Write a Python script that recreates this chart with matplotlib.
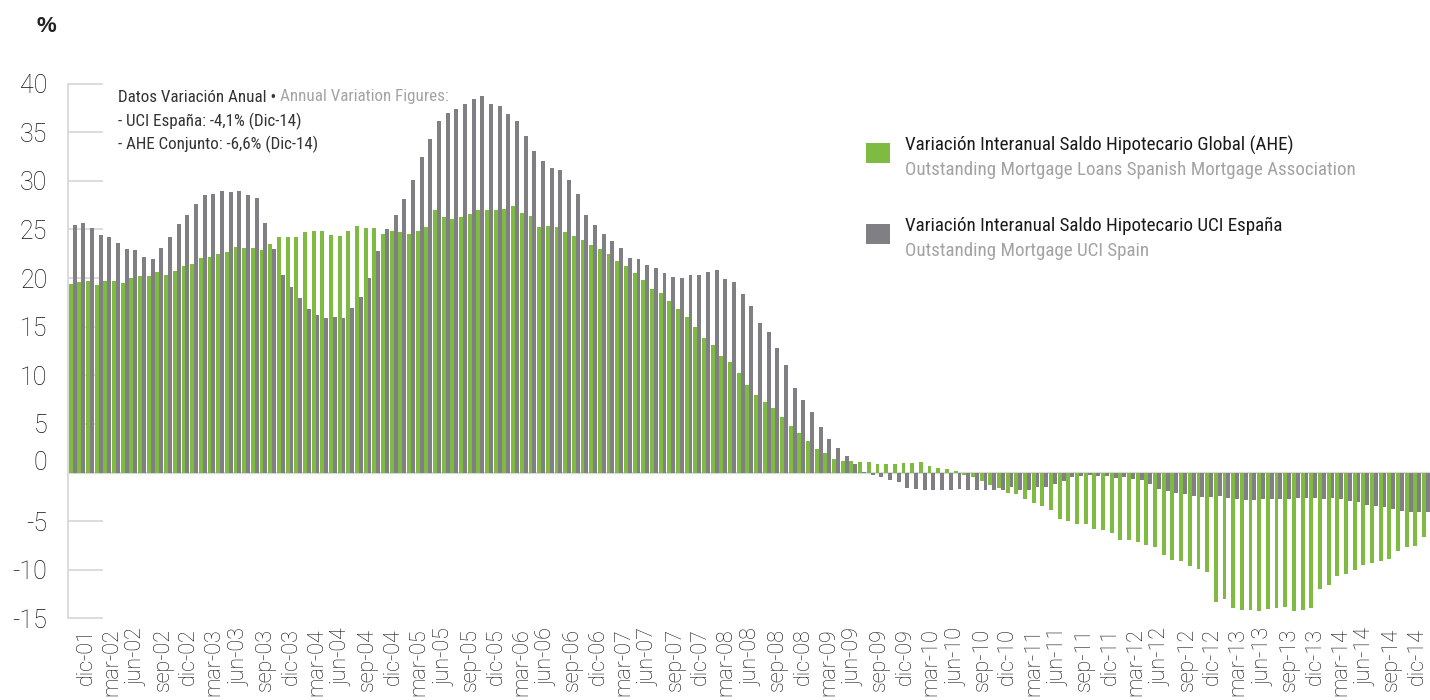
import matplotlib.pyplot as plt
import numpy as np
from matplotlib import font_manager as fm
from matplotlib.patches import Rectangle
from matplotlib.transforms import ScaledTranslation

# Variación interanual del saldo hipotecario (%), mensual de dic-01 a dic-14
ahe_global = [
    19.4, 19.6, 19.7, 19.3, 19.7, 19.7, 19.5, 20.0, 20.2, 20.2, 20.6, 20.3,
    20.7, 21.2, 21.5, 22.1, 22.2, 22.5, 22.7, 23.2, 23.1, 23.1, 22.9, 23.5,
    24.2, 24.2, 24.2, 24.7, 24.8, 24.8, 24.4, 24.3, 24.8, 25.4, 25.2, 25.2,
    24.5, 24.8, 24.7, 24.5, 24.8, 25.3, 27.0, 26.3, 26.1, 26.3, 26.6, 27.0,
    27.0, 27.0, 27.1, 27.4, 26.7, 26.4, 25.3, 25.4, 25.3, 24.7, 24.3, 23.9,
    23.4, 23.0, 22.5, 21.8, 21.2, 20.5, 19.8, 18.9, 18.5, 17.6, 16.8, 16.0,
    15.0, 13.8, 13.1, 12.0, 11.4, 10.2, 9.0, 8.0, 7.3, 6.6, 5.7, 4.8,
    4.1, 3.2, 2.4, 2.0, 1.4, 1.2, 1.2, 1.1, 1.1, 0.9, 0.9, 0.9,
    1.0, 1.0, 1.1, 0.7, 0.5, 0.35, 0.15, -0.3, -0.5, -0.9, -1.25, -1.6,
    -2.1, -2.2, -2.7, -3.1, -3.4, -3.9, -4.75, -4.95, -5.3, -5.3, -5.8, -5.9,
    -6.2, -6.9, -6.9, -7.1, -7.5, -7.7, -8.45, -9.0, -9.1, -9.6, -9.9, -10.2,
    -13.3, -13.0, -13.9, -14.1, -14.1, -14.3, -14.0, -13.9, -13.8, -14.3, -14.1, -13.9,
    -11.95, -11.6, -10.6, -10.4, -10.0, -9.5, -9.3, -9.1, -8.9, -8.1, -7.7, -7.6,
    -6.6,
]
uci_espana = [
    25.5, 25.7, 25.2, 24.4, 24.2, 23.6, 23.0, 22.9, 22.2, 22.0, 23.1, 24.2,
    25.6, 26.5, 27.6, 28.5, 28.7, 29.0, 28.9, 29.0, 28.5, 28.2, 25.7, 23.0,
    20.3, 19.1, 18.0, 16.8, 16.2, 15.9, 16.0, 15.9, 16.9, 18.1, 20.0, 22.8,
    25.0, 26.5, 28.1, 30.1, 32.5, 34.3, 36.2, 37.0, 37.4, 37.9, 38.4, 38.7,
    37.9, 37.7, 36.9, 36.2, 34.6, 33.1, 32.0, 31.3, 31.1, 30.1, 28.7, 26.5,
    25.5, 24.5, 23.8, 23.1, 22.1, 22.0, 21.3, 21.0, 20.5, 20.1, 20.0, 20.3,
    20.3, 20.6, 20.8, 19.9, 19.6, 18.4, 17.1, 15.4, 14.5, 12.8, 11.1, 8.7,
    7.5, 6.2, 4.7, 3.4, 2.5, 1.7, 0.9, 0.1, -0.3, -0.5, -0.8, -1.0,
    -1.6, -1.7, -1.8, -1.8, -1.8, -1.8, -1.7, -1.8, -1.8, -1.8, -1.8, -1.8,
    -1.5, -1.8, -1.8, -1.5, -1.5, -1.15, -0.9, -0.5, -0.4, -0.3, -0.4, -0.4,
    -0.6, -0.5, -0.7, -0.8, -1.15, -1.7, -1.9, -2.1, -2.2, -2.4, -2.5, -2.5,
    -2.4, -2.6, -2.7, -2.8, -2.8, -2.7, -2.7, -2.7, -2.7, -2.6, -2.6, -2.6,
    -2.7, -2.6, -2.7, -2.9, -3.0, -3.3, -3.4, -3.6, -3.8, -4.0, -4.1, -4.1,
    -4.1,
]

# Etiquetas trimestrales del eje x
mes_nombre = {2: 'mar', 5: 'jun', 8: 'sep', 11: 'dic'}
etiquetas_x = [f"{mes_nombre[(11 + 3 * k) % 12]}-{1 + (11 + 3 * k) // 12:02d}" for k in range(53)]
valores_y = [40, 35, 30, 25, 20, 15, 10, 5, 0, -5, -10, -15]

VERDE = '#7fba42'
GRIS = '#808084'
GRIS_TEXTO = '#a3a3a3'
W, H = 1430, 700

NORMAL = ['Liberation Sans', 'DejaVu Sans']
LIGERA = ['Roboto', 'Liberation Sans', 'DejaVu Sans']   # ejes en letra fina
plt.rcParams['font.family'] = NORMAL


def fuente_estrecha():
    # el original usa una letra condensada; se busca una instalada
    for familia in ['Liberation Sans Narrow', 'Roboto Condensed', 'Open Sans Condensed']:
        try:
            fm.findfont(fm.FontProperties(family=familia), fallback_to_default=False)
            return dict(family=familia)
        except ValueError:
            pass
    ruta = fm.findfont(fm.FontProperties(family='DejaVu Sans', stretch='condensed'))
    if 'Condensed' in ruta:
        return dict(family='DejaVu Sans', fontstretch='condensed')
    return dict(family='Liberation Sans')


ESTRECHA = fuente_estrecha()


def px(x, y):
    # pixel de la imagen -> coordenadas de figura
    return x / W, 1 - y / H


fig = plt.figure(figsize=(W / 100, H / 100), dpi=100)
ax = fig.add_axes([68.3 / W, (H - 618.3) / H, 1362 / W, 534.6 / H])
renderer = fig.canvas.get_renderer()


def tam_para_ancho(texto, ancho_px):
    # tamaño de letra con el que el texto ocupa ancho_px pixeles
    ancho = texto.get_window_extent(renderer).width
    return texto.get_fontsize() * ancho_px / ancho


meses = np.arange(len(ahe_global))
ax.axhline(0, color='#d9d9d9', lw=1.6, zorder=1)
ax.bar(meses + 0.225, uci_espana, width=0.45, color=GRIS, zorder=2)
ax.bar(meses - 0.225, ahe_global, width=0.45, color=VERDE, zorder=3)

ax.set_xlim(-0.5, 156.5)
ax.set_ylim(-15, 40)

# Ejes
for lado in ['top', 'right', 'bottom']:
    ax.spines[lado].set_visible(False)
ax.spines['left'].set_color('#d9d9d9')
ax.spines['left'].set_linewidth(1.3)

ax.set_yticks(valores_y, labels=[str(v) for v in valores_y])
ax.tick_params(axis='y', direction='in', length=25, width=1.3, color='#d9d9d9',
               pad=15, labelsize=18, labelcolor='#111111')
# la etiqueta 0 está algo más arriba en el original
lbl0 = ax.get_yticklabels()[valores_y.index(0)]
lbl0.set_transform(lbl0.get_transform() + ScaledTranslation(0, 9 / 72, fig.dpi_scale_trans))

ax.set_xticks(np.linspace(1.57, 155.0, len(etiquetas_x)), labels=etiquetas_x)
ax.tick_params(axis='x', length=0, pad=7, labelsize=15.5, labelcolor='#111111',
               labelrotation=90)
for lbl in ax.get_xticklabels() + ax.get_yticklabels():
    lbl.set_family(LIGERA)
    lbl.set_fontweight('light')

fig.text(*px(46, 27), '%', ha='center', va='center', fontsize=16,
         fontweight='bold', color='#222222', family=NORMAL)

# Nota de datos anuales
nota = [
    fig.text(*px(118, 121), '- UCI España: -4,1% (Dic-14)', ha='left', va='center',
             fontsize=12, color='#333333', **ESTRECHA),
    fig.text(*px(118, 144), '- AHE Conjunto: -6,6% (Dic-14)', ha='left', va='center',
             fontsize=12, color='#333333', **ESTRECHA),
    fig.text(*px(118, 97), 'Datos Variación Anual •', ha='left', va='center',
             fontsize=12, color='#333333', **ESTRECHA),
]
tam_nota = tam_para_ancho(nota[0], 184)
for t in nota:
    t.set_fontsize(tam_nota)
ax.annotate('Annual Variation Figures:', xy=(1, 0.5), xycoords=nota[2], xytext=(3, 0),
            textcoords='offset points', ha='left', va='center', fontsize=tam_nota,
            color=GRIS_TEXTO, **ESTRECHA)

# Leyenda
leyenda = [
    (VERDE, 'Variación Interanual Saldo Hipotecario Global (AHE)',
     'Outstanding Mortgage Loans Spanish Mortgage Association', 145),
    (GRIS, 'Variación Interanual Saldo Hipotecario UCI España',
     'Outstanding Mortgage UCI Spain', 226),
]
textos_leyenda = []
for color, texto, subtexto, y in leyenda:
    x0, y0 = px(866, y + 18)
    fig.add_artist(Rectangle((x0, y0), 24 / W, 20 / H, transform=fig.transFigure,
                             facecolor=color, edgecolor='none'))
    textos_leyenda.append(fig.text(*px(905, y), texto, ha='left', va='center',
                                   fontsize=14, color='#1a1a1a', **ESTRECHA))
    textos_leyenda.append(fig.text(*px(905, y + 25), subtexto, ha='left', va='center',
                                   fontsize=14, color=GRIS_TEXTO, **ESTRECHA))
tam_leyenda = tam_para_ancho(textos_leyenda[0], 392)
for t in textos_leyenda:
    t.set_fontsize(tam_leyenda)

plt.savefig('out.png', dpi=100)
